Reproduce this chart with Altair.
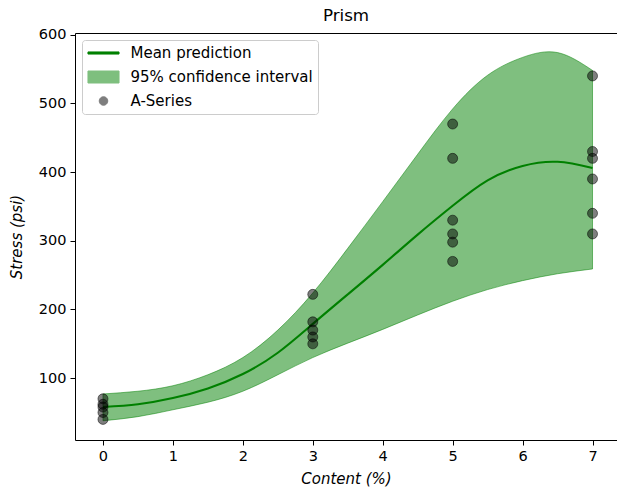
import altair as alt
import pandas as pd

# ---- data ----
curve_content = [0, 0.5, 1, 1.5, 2, 2.5, 3, 3.5, 4, 4.5, 5, 5.5, 6, 6.5, 7]
mean_pred = [58, 62, 71, 85, 106, 137, 179, 222, 265, 309, 351, 388, 409, 415, 406]
ci_upper = [77, 81, 89, 105, 130, 170, 224, 289, 357, 426, 492, 541, 567, 574, 548]
ci_lower = [38, 44, 54, 65, 81, 105, 130, 151, 171, 192, 212, 229, 242, 252, 259]

sample_content = [0, 0, 0, 0, 0,
                  3, 3, 3, 3, 3,
                  5, 5, 5, 5, 5, 5,
                  7, 7, 7, 7, 7, 7]
sample_stress = [70, 62, 58, 50, 40,
                 222, 182, 170, 160, 150,
                 470, 420, 330, 310, 298, 270,
                 540, 430, 420, 390, 340, 310]

series_names = ["Mean prediction", "95% confidence interval", "A-Series"]
series_colors = ["#008000", "#008000", "#000000"]
x_ticks = [0, 1, 2, 3, 4, 5, 6, 7]
y_ticks = [100, 200, 300, 400, 500, 600]

curve_df = pd.DataFrame({
    "content": curve_content,
    "mean": mean_pred,
    "upper": ci_upper,
    "lower": ci_lower,
    "band": series_names[1],
    "line": series_names[0],
})
pts_df = pd.DataFrame({
    "content": sample_content,
    "stress": sample_stress,
    "series": series_names[2],
})

FONT = "DejaVu Sans"

color_scale = alt.Scale(domain=series_names, range=series_colors)

is_line = "datum.value === 'Mean prediction'"
is_pts = "datum.value === 'A-Series'"
shape_expr = (
    f"{is_line} ? 'M-2.07,-0.14H2.07V0.14H-2.07Z' : "
    f"{is_pts} ? 'M-0.57,0A0.57,0.57,0,1,1,0.57,0A0.57,0.57,0,1,1,-0.57,0Z' : "
    "'M-2.07,-0.8H2.07V0.8H-2.07Z'"
)
fill_expr = (
    f"{is_line} ? '#008000' : {is_pts} ? 'rgba(0,0,0,0.5)' : 'rgba(0,128,0,0.5)'"
)
stroke_expr = (
    f"{is_line} ? 'rgba(0,0,0,0)' : {is_pts} ? 'rgba(0,0,0,0.5)' : 'rgba(0,128,0,0.5)'"
)
opacity_expr = f"{is_line} ? 1 : 0.5"

legend = alt.Legend(
    title=None,
    orient="top-left",
    offset=7,
    padding=5,
    fillColor="rgba(255,255,255,0.8)",
    strokeColor="#cccccc",
    cornerRadius=3,
    labelFont=FONT,
    labelFontSize=15,
    labelColor="black",
    labelLimit=400,
    symbolSize=225,
    symbolStrokeWidth=1,
    symbolOffset=8.5,
    labelOffset=19,
    rowPadding=8,
    symbolType=alt.ExprRef(shape_expr),
    symbolFillColor=alt.ExprRef(fill_expr),
    symbolStrokeColor=alt.ExprRef(stroke_expr),
    symbolOpacity=alt.ExprRef(opacity_expr),
)

axis_common = dict(
    labelFont=FONT, labelFontSize=14.5, labelColor="black",
    tickColor="black", domainColor="black", tickSize=5, tickWidth=1,
    labelPadding=4, grid=False,
    titleFont=FONT, titleFontSize=15, titleFontStyle="italic",
    titleFontWeight="normal", titleColor="black",
)

x_scale = alt.Scale(domain=[-0.4, 7.35], nice=False, zero=False)
x_enc = alt.X(
    "content:Q", scale=x_scale,
    axis=alt.Axis(values=x_ticks, title="Content (%)", titlePadding=9, **axis_common),
)
x_plain = alt.X("content:Q", scale=x_scale, axis=None)
# top spine drawn as an unlabeled top axis
x_top = alt.X(
    "content:Q", scale=x_scale,
    axis=alt.Axis(orient="top", labels=False, ticks=False, title=None, grid=False,
                  domainColor="black", domainWidth=1),
)
y_scale = alt.Scale(domain=[10, 602.5], nice=False, zero=False)
y_axis = alt.Axis(values=y_ticks, title="Stress (psi)", titlePadding=14, **axis_common)

band = alt.Chart(curve_df).mark_area(
    interpolate="natural", fillOpacity=0.5, stroke="#008000",
    strokeOpacity=0.5, strokeWidth=1,
).encode(
    x=x_enc,
    y=alt.Y("lower:Q", scale=y_scale, axis=y_axis),
    y2="upper:Q",
    color=alt.Color("band:N", scale=color_scale, legend=legend),
)

line = alt.Chart(curve_df).mark_line(interpolate="natural", strokeWidth=2.1).encode(
    x=x_plain,
    y=alt.Y("mean:Q", scale=y_scale, axis=y_axis),
    color=alt.Color("line:N", scale=color_scale, legend=legend),
)

points = alt.Chart(pts_df).mark_circle(
    size=100, opacity=1, fillOpacity=0.5, stroke="black",
    strokeOpacity=0.5, strokeWidth=1,
).encode(
    x=x_top,
    y=alt.Y("stress:Q", scale=y_scale, axis=y_axis),
    color=alt.Color("series:N", scale=color_scale, legend=legend),
)

chart = alt.layer(band, line, points).resolve_axis(x="independent").properties(
    width=542,
    height=407,
    title=alt.TitleParams("Prism", font=FONT, fontSize=16.7, fontWeight="normal",
                          color="black", anchor="middle", frame="group", offset=2),
    autosize=alt.AutoSizeParams(type="none"),
    padding={"left": 75, "top": 33, "right": 0, "bottom": 52},
).configure(font=FONT).configure_view(stroke="transparent")

chart.save("out.html", embed_options={"renderer": "svg", "actions": False})
